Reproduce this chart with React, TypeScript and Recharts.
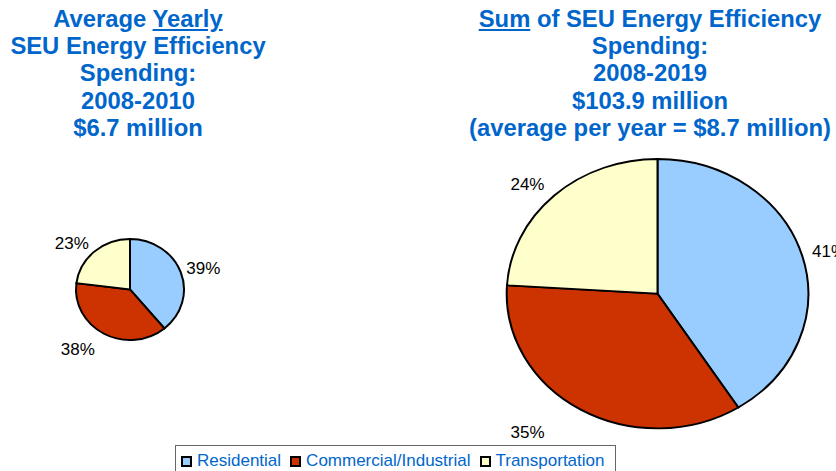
import React from 'react';
import { PieChart, Pie, Cell, Legend } from 'recharts';

// ---- data ----
const categories = ['Residential', 'Commercial/Industrial', 'Transportation'];
const sliceColors = ['#99CCFF', '#CC3300', '#FFFFCC'];
const yearlyAvg2008to2010 = [39, 38, 23];
const sum2008to2019 = [41, 35, 24];

const leftTitleLead = 'Average ';
const leftTitleUnderlined = 'Yearly';
const leftTitleRest = ['SEU Energy Efficiency', 'Spending:', '2008-2010', '$6.7 million'];
const rightTitleUnderlined = 'Sum';
const rightTitleLead = ' of SEU Energy Efficiency';
const rightTitleRest = ['Spending:', '2008-2019', '$103.9 million', '(average per year = $8.7 million)'];

// ---- layout / style ----
const W = 836;
const H = 471;
const BLUE = '#0066CC';
const FONT = 'Arial, "Liberation Sans", Helvetica, sans-serif';

const leftGeom = { cx: 130, cy: 289.5, rx: 54, ratio: 50.5 / 54 };
const rightGeom = { cx: 657.5, cy: 293.7, rx: 150.8, ratio: 134.7 / 150.8 };

const leftData = categories.map((name, i) => ({ name, value: yearlyAvg2008to2010[i] }));
const rightData = categories.map((name, i) => ({ name, value: sum2008to2019[i] }));

const makeLabel = (ratio: number) => (props: any) => {
  const { cx, cy, midAngle, outerRadius, value, index } = props;
  const rad = Math.PI / 180;
  const c = Math.cos(midAngle * rad);
  const s = Math.sin(midAngle * rad);
  const rx = outerRadius;
  const ry = outerRadius * ratio;
  const ex = cx + rx * c;
  const ey = cy - ry * s;
  const lower = s < 0;
  const gap = lower ? 0.28 * rx - 6 : 3 + 0.045 * rx;
  const x = ex + (c >= 0 ? gap : -gap);
  const y = ey - s * (lower ? 14 + 0.08 * rx : 9 + 0.04 * rx);
  return (
    <text
      key={`lbl-${index}`}
      x={x}
      y={y}
      textAnchor={c >= 0 ? 'start' : 'end'}
      dominantBaseline="central"
      fontSize={17}
      fontFamily={FONT}
      fill="#000"
    >
      {`${value}%`}
    </text>
  );
};

const LegendBox = () => (
  <div
    style={{
      border: '1px solid #666',
      background: '#fff',
      padding: '5px 11px 8px 5px',
      display: 'flex',
      alignItems: 'center',
      fontFamily: FONT,
      fontSize: 17,
      lineHeight: '20px',
      color: BLUE,
      whiteSpace: 'nowrap',
    }}
  >
    {categories.map((name, i) => (
      <div key={name} style={{ display: 'flex', alignItems: 'center', marginRight: i < categories.length - 1 ? 9 : 0 }}>
        <span
          style={{
            display: 'inline-block',
            width: 11,
            height: 11,
            boxSizing: 'border-box',
            border: '2px solid #000',
            background: sliceColors[i],
            marginRight: 5,
          }}
        />
        <span>{name}</span>
      </div>
    ))}
  </div>
);

const titleStyle: React.CSSProperties = {
  position: 'absolute',
  top: 4.8,
  textAlign: 'center',
  fontFamily: FONT,
  fontWeight: 'bold',
  fontSize: 23.8,
  lineHeight: '27.3px',
  color: BLUE,
  whiteSpace: 'nowrap',
};

const css = `
.pie-left .recharts-sector { transform-box: view-box; transform-origin: ${leftGeom.cx}px ${leftGeom.cy}px; transform: scaleY(${leftGeom.ratio}); }
.pie-right .recharts-sector { transform-box: view-box; transform-origin: ${rightGeom.cx}px ${rightGeom.cy}px; transform: scaleY(${rightGeom.ratio}); }
`;

export default function App() {
  return (
    <div
      style={{
        position: 'absolute',
        left: 0,
        top: 0,
        width: W,
        height: H,
        overflow: 'hidden',
        background: '#fff',
      }}
    >
      <style>{css}</style>
      <PieChart width={W} height={H} margin={{ top: 0, right: 0, bottom: 0, left: 0 }}>
        <Pie
          className="pie-left"
          data={leftData}
          dataKey="value"
          nameKey="name"
          cx={leftGeom.cx}
          cy={leftGeom.cy}
          innerRadius={0}
          outerRadius={leftGeom.rx}
          startAngle={90}
          endAngle={-270}
          stroke="#000"
          strokeWidth={2}
          labelLine={false}
          label={makeLabel(leftGeom.ratio)}
          isAnimationActive={false}
        >
          {leftData.map((d, i) => (
            <Cell key={d.name} fill={sliceColors[i]} stroke="#000" strokeWidth={2} />
          ))}
        </Pie>
        <Pie
          className="pie-right"
          data={rightData}
          dataKey="value"
          nameKey="name"
          cx={rightGeom.cx}
          cy={rightGeom.cy}
          innerRadius={0}
          outerRadius={rightGeom.rx}
          startAngle={90}
          endAngle={-270}
          stroke="#000"
          strokeWidth={2}
          labelLine={false}
          label={makeLabel(rightGeom.ratio)}
          isAnimationActive={false}
        >
          {rightData.map((d, i) => (
            <Cell key={d.name} fill={sliceColors[i]} stroke="#000" strokeWidth={2} />
          ))}
        </Pie>
        <Legend
          layout="horizontal"
          verticalAlign="middle"
          align="center"
          wrapperStyle={{ left: 175, top: 445, width: 'auto', height: 'auto' }}
          content={() => <LegendBox />}
        />
      </PieChart>
      <div style={{ ...titleStyle, left: 0, width: 276 }}>
        <div>
          {leftTitleLead}
          <span style={{ textDecoration: 'underline' }}>{leftTitleUnderlined}</span>
        </div>
        {leftTitleRest.map((t) => (
          <div key={t}>{t}</div>
        ))}
      </div>
      <div style={{ ...titleStyle, left: 450, width: 400 }}>
        <div>
          <span style={{ textDecoration: 'underline' }}>{rightTitleUnderlined}</span>
          {rightTitleLead}
        </div>
        {rightTitleRest.map((t) => (
          <div key={t}>{t}</div>
        ))}
      </div>
    </div>
  );
}
